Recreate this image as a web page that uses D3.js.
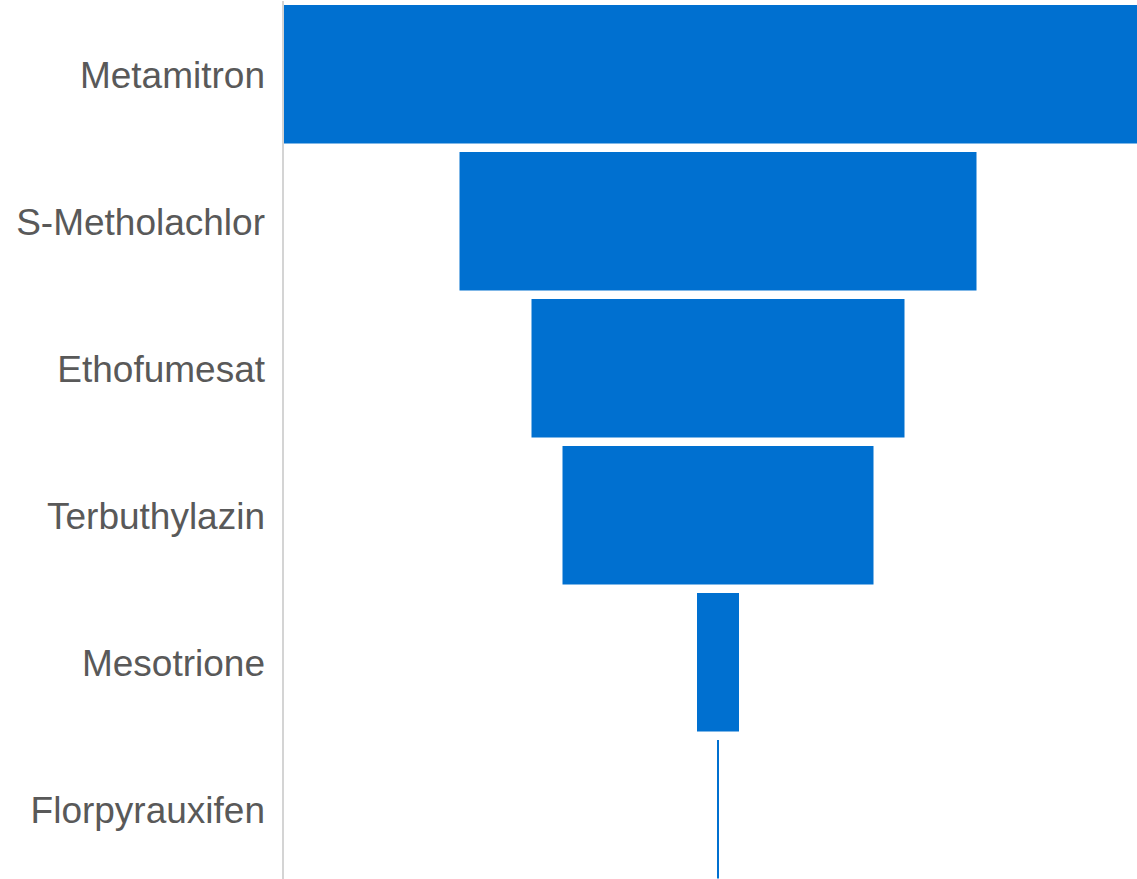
<!DOCTYPE html>
<html>
<head>
<meta http-equiv="Content-Type" content="text/html;charset=utf-8"/>
<style>
  body { margin: 0; background: #fff; overflow: hidden; }
  .label { font-family: "Liberation Sans", Arial, sans-serif; fill: #595959; }
</style>
</head>
<body>
  <svg id="funnel-svg"></svg>
  <script src="https://d3js.org/d3.v7.min.js"></script>
  <script>
  // Funnel data (relative units)
  var categories = ['Metamitron', 'S-Metholachlor', 'Ethofumesat', 'Terbuthylazin', 'Mesotrione', 'Florpyrauxifen'];
  var values = [868, 517, 373, 311, 42, 2];

  var config = {
    svgWidth: 1137,
    svgHeight: 879,
    plotLeft: 284,
    plotRight: 1152, // the widest bar runs past the right edge of the picture
    plotTop: 5,
    step: 147,
    gap: 8.5,
    barColor: '#0070d0',
    axisColor: '#d4d4d4',
    labelFontSize: 37,
    labelRight: 265,
  }

  var svg = d3.select('#funnel-svg')
    .attr('width', config.svgWidth)
    .attr('height', config.svgHeight);

  // x: bar width around the centre of the plot area
  var plotWidth = config.plotRight - config.plotLeft;
  var centre = config.plotLeft + plotWidth / 2;
  var w = d3.scaleLinear()
    .domain([0, d3.max(values)])
    .range([0, plotWidth]);

  var y = d3.scaleBand()
    .domain(categories)
    .range([config.plotTop, config.plotTop + categories.length * config.step - config.gap])
    .paddingInner(config.gap / config.step)
    .paddingOuter(0);

  // bars, centred
  svg.selectAll('rect.bar')
    .data(values)
    .enter().append('rect')
    .attr('class', 'bar')
    .attr('x', function(d) { return centre - w(d) / 2; })
    .attr('y', function(d, i) { return y(categories[i]); })
    .attr('width', function(d) { return w(d); })
    .attr('height', y.bandwidth())
    .attr('fill', config.barColor);

  // vertical axis line
  svg.append('line')
    .attr('x1', config.plotLeft - 1)
    .attr('x2', config.plotLeft - 1)
    .attr('y1', 1)
    .attr('y2', config.svgHeight)
    .attr('stroke', config.axisColor)
    .attr('stroke-width', 2);

  // category labels
  svg.selectAll('text.label')
    .data(categories)
    .enter().append('text')
    .attr('class', 'label')
    .attr('x', config.labelRight)
    .attr('y', function(d) { return y(d) + y.bandwidth() / 2; })
    .attr('dy', '0.38em')
    .attr('text-anchor', 'end')
    .attr('font-size', config.labelFontSize + 'px')
    .text(function(d) { return d; });
  </script>
</body>
</html>
